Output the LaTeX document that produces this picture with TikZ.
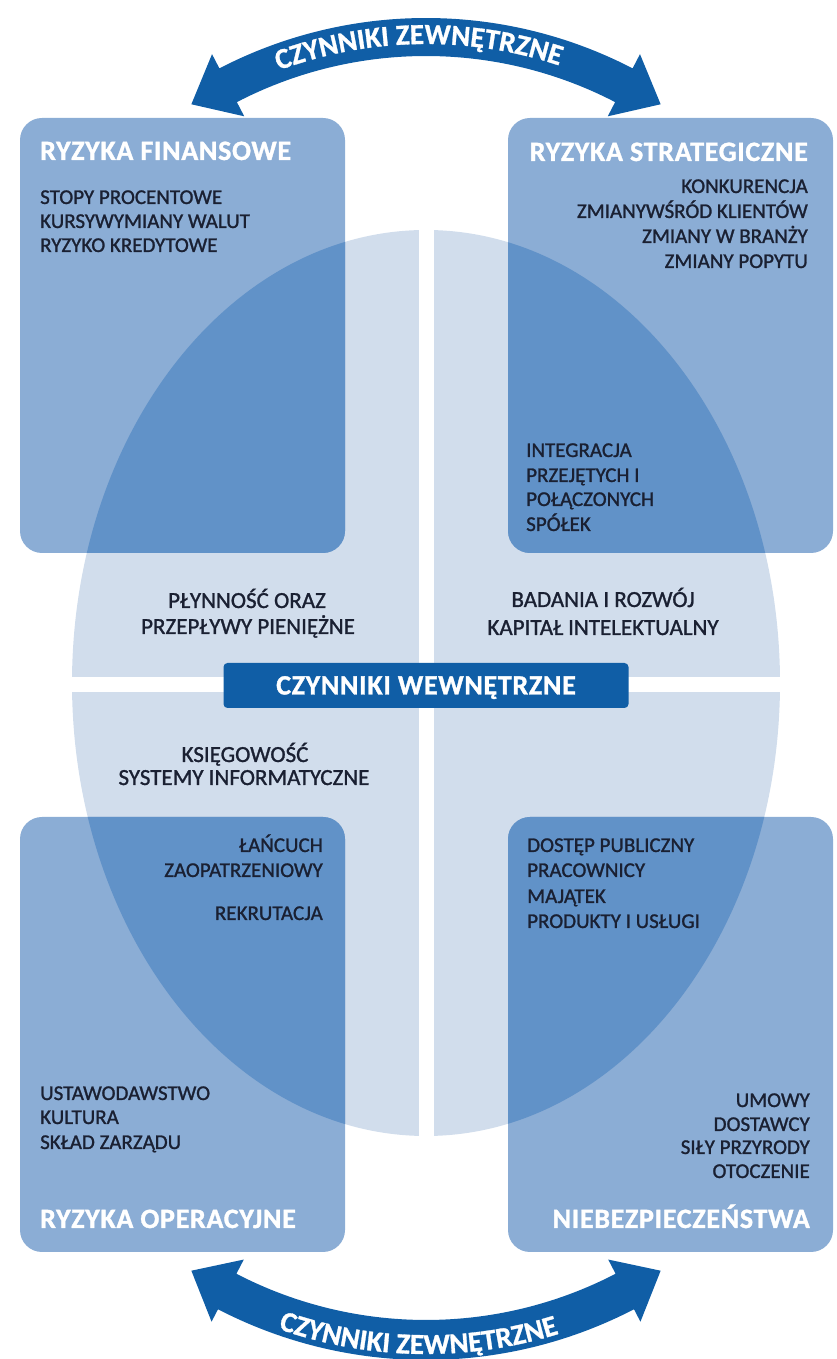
\documentclass[tikz,border=0pt]{standalone}
\usepackage{fontspec}
\setmainfont{Carlito}
\newfontfamily\inkfont[FakeBold=1.2]{Carlito}
\newfontfamily\widefont[LetterSpace=2.5, BoldFeatures={FakeBold=1.2}]{Carlito}
\newfontfamily\arcfont[BoldFeatures={FakeBold=1}]{Carlito}
\usetikzlibrary{calc,decorations.text}

\definecolor{arrowblue}{RGB}{16,94,166}
\definecolor{panelblue}{RGB}{139,173,213}
\definecolor{ovalblue}{RGB}{209,221,236}
\definecolor{deepblue}{RGB}{97,146,200}
\definecolor{ink}{RGB}{26,32,50}

\newcommand\bodysize{\inkfont\fontsize{21}{24}\selectfont}
\newcommand\midsize{\inkfont\fontsize{23}{26}\selectfont}
\newcommand\headsize{\widefont\fontsize{28}{32}\selectfont\bfseries}
\newcommand\arcsize{\arcfont\fontsize{29}{33}\selectfont\bfseries}

\begin{document}
\begin{tikzpicture}[x=1pt,y=1pt,
  panel/.style={fill=panelblue, rounded corners=22pt, minimum width=325pt,
    minimum height=435pt, inner sep=0pt, outer sep=0pt},
  head/.style={font=\headsize, text=white, inner sep=0pt},
  body/.style={font=\bodysize, text=ink, inner sep=0pt},
  mid/.style={font=\midsize, text=ink, inner sep=0pt},
  bar/.style={fill=arrowblue, rounded corners=4pt, minimum width=405pt,
    minimum height=45pt, inner sep=0pt, text height=18pt, text depth=0pt,
    font=\headsize, text=white},
  ]
\useasboundingbox (0,0) rectangle (836,1359);

% central oval, split into four by a white cross
\fill[ovalblue] (426,676) ellipse[x radius=354, y radius=453];
\fill[white] (418.5,200) rectangle (433.5,1150);
\fill[white] (50,667) rectangle (800,682);

% four risk panels
\node[panel] (fin) at (182.5,1023.5) {};
\node[panel] (str) at (670.5,1023.5) {};
\node[panel] (ope) at (182.5,324.5) {};
\node[panel] (nie) at (670.5,324.5) {};

% darker where the oval runs under a panel
\begin{scope}
  \clip (426,676) ellipse[x radius=354, y radius=453];
  \foreach \p in {fin,str,ope,nie}
    \fill[deepblue, rounded corners=22pt] (\p.south west) rectangle (\p.north east);
\end{scope}

% internal factors bar
\node[bar] (wew) at (426,673.5) {CZYNNIKI WEWNĘTRZNE};

% external factors: curved double arrow on top
\begin{scope}[shift={(426,892)}]
  \fill[arrowblue] (62.6:449) arc[start angle=62.6, end angle=117.4, radius=449]
    -- (117.4:465) -- (122.9:432) -- (117.4:395) -- (117.4:411)
    arc[start angle=117.4, end angle=62.6, radius=411]
    -- (62.6:395) -- (57.1:432) -- (62.6:465) -- cycle;
  \path[decorate, decoration={text along path, text align=center,
      text color=white, text={|\arcsize|CZYNNIKI ZEWNĘTRZNE}}]
    (122:423) arc[start angle=122, end angle=60, radius=423];
\end{scope}

% external factors: curved double arrow at the bottom
\begin{scope}[shift={(426,451)}]
  \fill[arrowblue] (-62.6:452) arc[start angle=-62.6, end angle=-117.4, radius=452]
    -- (-117.4:466) -- (-122.9:432) -- (-117.4:396) -- (-117.4:412)
    arc[start angle=-117.4, end angle=-62.6, radius=412]
    -- (-62.6:396) -- (-57.1:432) -- (-62.6:466) -- cycle;
  \path[decorate, decoration={text along path, text align=center,
      text color=white, text={|\arcsize|CZYNNIKI ZEWNĘTRZNE}}]
    (-121:446) arc[start angle=-121, end angle=-61, radius=446];
\end{scope}

% financial risks
\node[head, anchor=base west] (finT) at (40,1199) {RYZYKA FINANSOWE};
\node[body, anchor=base west] (fin1) at (40,1155) {STOPY PROCENTOWE};
\node[body, anchor=base west] (fin2) at (40,1131) {KURSYWYMIANY WALUT};
\node[body, anchor=base west] (fin3) at (40,1107) {RYZYKO KREDYTOWE};

% strategic risks
\node[head, anchor=base east] (strT) at (808,1198) {RYZYKA STRATEGICZNE};
\node[body, anchor=base east] (str1) at (808,1166) {KONKURENCJA};
\node[body, anchor=base east] (str2) at (808,1141) {ZMIANYWŚRÓD KLIENTÓW};
\node[body, anchor=base east] (str3) at (808,1116) {ZMIANY W BRANŻY};
\node[body, anchor=base east] (str4) at (808,1091) {ZMIANY POPYTU};
\node[body, anchor=base west] (int1) at (526,902) {INTEGRACJA};
\node[body, anchor=base west] (int2) at (526,877) {PRZEJĘTYCH I};
\node[body, anchor=base west] (int3) at (526,853) {POŁĄCZONYCH};
\node[body, anchor=base west] (int4) at (526,828) {SPÓŁEK};

% middle of the oval
\node[mid, anchor=base] (ply1) at (247,751) {PŁYNNOŚĆ ORAZ};
\node[mid, anchor=base] (ply2) at (248,725) {PRZEPŁYWY PIENIĘŻNE};
\node[mid, anchor=base] (bad1) at (603,752) {BADANIA I ROZWÓJ};
\node[mid, anchor=base] (bad2) at (603,724) {KAPITAŁ INTELEKTUALNY};
\node[mid, anchor=base] (ksi1) at (245,597) {KSIĘGOWOŚĆ};
\node[mid, anchor=base] (ksi2) at (244,574) {SYSTEMY INFORMATYCZNE};

% operational risks
\node[body, anchor=base east] (lan1) at (323,507) {ŁAŃCUCH};
\node[body, anchor=base east] (lan2) at (323,482) {ZAOPATRZENIOWY};
\node[body, anchor=base east] (rek) at (323,439) {REKRUTACJA};
\node[body, anchor=base west] (ust1) at (40,259) {USTAWODAWSTWO};
\node[body, anchor=base west] (ust2) at (40,235) {KULTURA};
\node[body, anchor=base west] (ust3) at (40,210) {SKŁAD ZARZĄDU};
\node[head, anchor=base west] (opeT) at (40,131) {RYZYKA OPERACYJNE};

% hazards
\node[body, anchor=base west] (dos1) at (527,507) {DOSTĘP PUBLICZNY};
\node[body, anchor=base west] (dos2) at (527,482) {PRACOWNICY};
\node[body, anchor=base west] (dos3) at (527,456) {MAJĄTEK};
\node[body, anchor=base west] (dos4) at (527,431) {PRODUKTY I USŁUGI};
\node[body, anchor=base east] (umo1) at (810,252) {UMOWY};
\node[body, anchor=base east] (umo2) at (810,228) {DOSTAWCY};
\node[body, anchor=base east] (umo3) at (810,205) {SIŁY PRZYRODY};
\node[body, anchor=base east] (umo4) at (810,181) {OTOCZENIE};
\node[head, anchor=base east] (nieT) at (810,131) {NIEBEZPIECZEŃSTWA};
\end{tikzpicture}
\end{document}
